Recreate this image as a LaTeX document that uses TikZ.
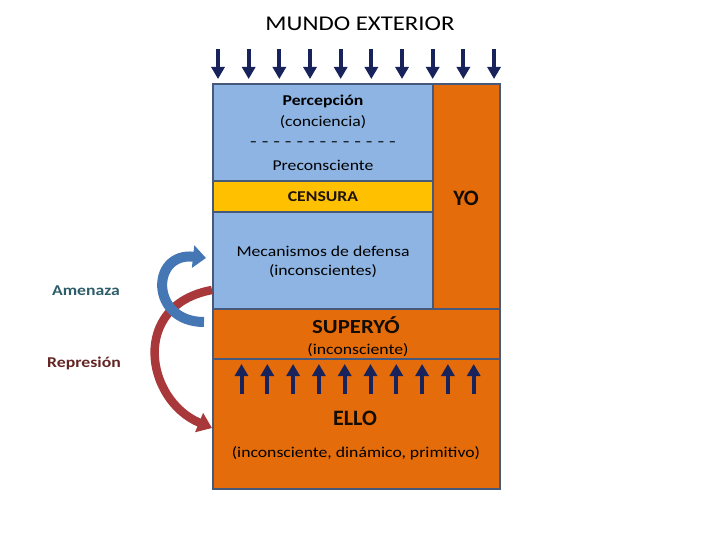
\documentclass[tikz,border=0pt]{standalone}
\usepackage{fontspec}
\setmainfont{Carlito}
\usetikzlibrary{arrows.meta}
\definecolor{azul}{HTML}{8EB4E3}
\definecolor{naranja}{HTML}{E46C0A}
\definecolor{amarillo}{HTML}{FFC000}
\definecolor{borde}{HTML}{46597A}
\definecolor{marino}{HTML}{17235A}
\definecolor{verdeos}{HTML}{2E5D6A}
\definecolor{granate}{HTML}{632523}
\definecolor{flazul}{HTML}{4677B5}
\definecolor{flrojo}{HTML}{A8383A}
\newcommand{\ancho}[2][1.18]{\scalebox{#1}[1]{#2}}
\begin{document}
\begin{tikzpicture}[x=1pt,y=-1pt,
 caja/.style={draw=borde,line width=2.5pt},
 flecha/.style={marino,line width=4pt,-{Triangle[length=12pt,width=13pt]}},
 txt/.style={font=\fontsize{15}{17}\selectfont,inner sep=0pt},
 negrita/.style={font=\fontsize{15}{17}\selectfont\bfseries,inner sep=0pt},
 grande/.style={font=\fontsize{22}{26}\selectfont\bfseries,inner sep=0pt,text=black!90!brown}]
\useasboundingbox(0,0)rectangle(720,540);
\fill[naranja](213,84)rectangle(500,489);\fill[azul](213,84)rectangle(433,308);\fill[amarillo](213,181)rectangle(433,212);
\draw[caja](213,84)rectangle(500,489);\draw[caja](433,84)--(433,309);
\draw[caja](213,181)--(433,181);\draw[caja](213,212)--(433,212);
\draw[caja](213,309)--(500,309);\draw[caja](213,359)--(500,359);
\node[txt,font=\fontsize{21}{24}\selectfont](mundo)at(360,24){\ancho{MUNDO EXTERIOR}};
\foreach \i in {0,...,9}{\coordinate(a\i)at(218+30.67*\i,49);\coordinate(b\i)at(218+30.67*\i,79);\draw[flecha](a\i)--(b\i);}
\foreach \i in {0,...,9}{\coordinate(c\i)at(241.5+25.8*\i,394);\coordinate(d\i)at(241.5+25.8*\i,364);\draw[flecha](c\i)--(d\i);}
\node[negrita](perc)at(323,101){\ancho{Percepción}};
\node[txt](conc)at(323,122){\ancho{(conciencia)}};
\node[txt](raya)at(323,144){\ancho[1.45]{- - - - - - - - - - - - -}};
\node[txt](prec)at(323,165){\ancho{Preconsciente}};
\node[negrita,text=black!85!brown](cens)at(323,197){\ancho{CENSURA}};
\node[grande](yo)at(466,198){YO};
\node[txt](meca)at(323,251){\ancho{Mecanismos de defensa}};
\node[txt](inc)at(323,271){\ancho{(inconscientes)}};
\node[grande,font=\fontsize{20}{24}\selectfont\bfseries](super)at(356,325){\ancho[1.14]{SUPERYÓ}};
\node[txt](supinc)at(358,350){\ancho{(inconsciente)}};
\node[grande](ello)at(355,418){ELLO};
\node[txt](ellinc)at(356,453){\ancho{(inconsciente, dinámico, primitivo)}};
\node[negrita,text=verdeos](amen)at(86,291){\ancho{Amenaza}};
\node[negrita,text=granate](repr)at(84,363){\ancho{Represión}};
\coordinate(rt)at(212,290);\coordinate(rh)at(212,428);
\draw[flrojo,line width=8.5pt,-{Triangle[length=14pt,width=20pt]}](rt)..controls(130,305)and(145,400)..(rh);
\coordinate(at)at(204,322);\coordinate(ah)at(206,258);
\draw[flazul,line width=10pt,-{Triangle[length=13pt,width=22pt]}](at)..controls(150,322)and(150,252)..(ah);
\end{tikzpicture}
\end{document}
